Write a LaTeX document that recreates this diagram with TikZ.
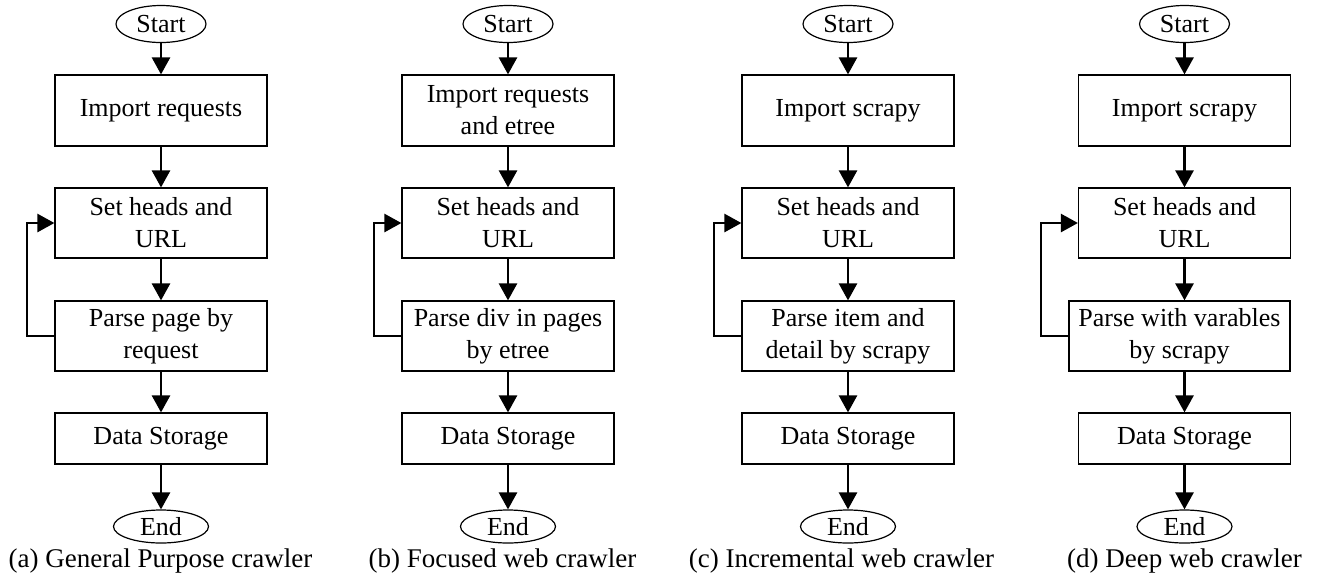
\documentclass[tikz,border=0pt]{standalone}
\usepackage{fontspec}
\setmainfont{Liberation Serif}
\usetikzlibrary{shapes.geometric,arrows.meta}
\begin{document}
\begin{tikzpicture}[x=0.5pt,y=-0.5pt,
  box/.style={draw, line width=0.6pt, minimum width=106pt, inner sep=0pt, align=center, font=\fontsize{13}{16}\selectfont},
  term/.style={ellipse, draw, line width=0.6pt, inner sep=0pt, minimum width=45pt, minimum height=18.5pt, font=\fontsize{13}{16}\selectfont},
  endterm/.style={term, minimum width=47.5pt, minimum height=16.5pt},
  arr/.style={line width=1.3pt, -{Triangle[width=9pt,length=8.5pt]}},
  captext/.style={anchor=base, inner sep=0pt, font=\fontsize{13.5}{16}\selectfont}]
\useasboundingbox (0,0) rectangle (1317,575);

% ---------- (a) ----------
\node[term] (as) at (161,24) {Start};
\node[box, minimum height=35.5pt] (a1) at (161,110.5) {Import requests};
\node[box, minimum height=35pt] (a2) at (161,223) {Set heads and\\URL};
\node[box, minimum height=35pt] (a3) at (161,336) {Parse page by\\request};
\node[box, minimum height=25.5pt] (a4) at (161,438.5) {Data Storage};
\node[endterm] (ae) at (161,526.5) {End};
\node[captext] (ac) at (160.5,567) {(a) General Purpose crawler};
\draw[arr] (as) -- (a1);
\draw[arr] (a1) -- (a2);
\draw[arr] (a2) -- (a3);
\draw[arr] (a3) -- (a4);
\draw[arr] (a4) -- (ae);
\draw[arr] (a3.west) -- ++(-27.5,0) |- (a2.west);

% ---------- (b) ----------
\node[term] (bs) at (508,24) {Start};
\node[box, minimum height=35.5pt] (b1) at (508,110.5) {Import requests\\and etree};
\node[box, minimum height=35pt] (b2) at (508,223) {Set heads and\\URL};
\node[box, minimum height=35pt] (b3) at (508,336) {Parse div in pages\\by etree};
\node[box, minimum height=25.5pt] (b4) at (508,438.5) {Data Storage};
\node[endterm] (be) at (508,526.5) {End};
\node[captext] (bc) at (502.5,567) {(b) Focused web crawler};
\draw[arr] (bs) -- (b1);
\draw[arr] (b1) -- (b2);
\draw[arr] (b2) -- (b3);
\draw[arr] (b3) -- (b4);
\draw[arr] (b4) -- (be);
\draw[arr] (b3.west) -- ++(-27.5,0) |- (b2.west);

% ---------- (c) ----------
\node[term] (cs) at (848,24) {Start};
\node[box, minimum height=35.5pt] (c1) at (848,110.5) {Import scrapy};
\node[box, minimum height=35pt] (c2) at (848,223) {Set heads and\\URL};
\node[box, minimum height=35pt] (c3) at (848,336) {Parse item and\\detail by scrapy};
\node[box, minimum height=25.5pt] (c4) at (848,438.5) {Data Storage};
\node[endterm] (ce) at (848,526.5) {End};
\node[captext] (cc) at (841.5,567) {(c) Incremental web crawler};
\draw[arr] (cs) -- (c1);
\draw[arr] (c1) -- (c2);
\draw[arr] (c2) -- (c3);
\draw[arr] (c3) -- (c4);
\draw[arr] (c4) -- (ce);
\draw[arr] (c3.west) -- ++(-27.5,0) |- (c2.west);

% ---------- (d) ----------
\node[term] (ds) at (1184.5,24) {Start};
\node[box, minimum height=35.5pt] (d1) at (1184.5,110.5) {Import scrapy};
\node[box, minimum height=35pt] (d2) at (1184.5,223) {Set heads and\\URL};
\node[box, minimum height=35pt, minimum width=110.5pt] (d3) at (1179.5,336) {Parse with varables\\by scrapy};
\node[box, minimum height=25.5pt] (d4) at (1184.5,438.5) {Data Storage};
\node[endterm] (de) at (1184.5,526.5) {End};
\node[captext] (dc) at (1184.5,567) {(d) Deep web crawler};
\draw[arr] (ds) -- (d1);
\draw[arr] (d1) -- (d2);
\draw[arr] (d2.south) -- (d2.south |- d3.north);
\draw[arr] (d2.south |- d3.south) -- (d4);
\draw[arr] (d4) -- (de);
\draw[arr] (d3.west) -- ++(-27.5,0) |- (d2.west);
\end{tikzpicture}
\end{document}
